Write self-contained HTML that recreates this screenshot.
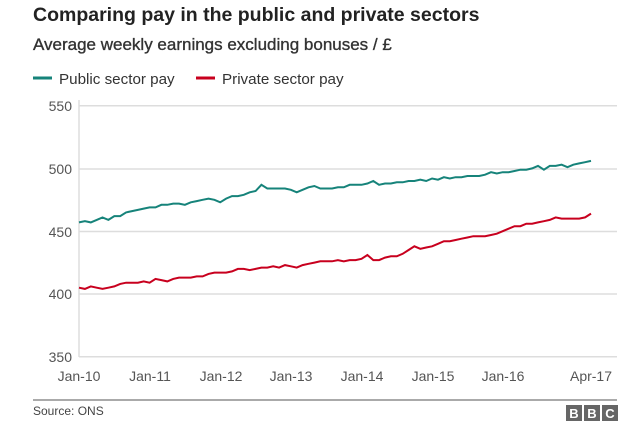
<!DOCTYPE html><html><head><style>
body{margin:0;background:#fff;width:638px;height:428px;overflow:hidden;font-family:"Liberation Sans",Arial,sans-serif}
</style></head><body>
<svg width="638" height="428" xmlns="http://www.w3.org/2000/svg" font-family="Liberation Sans, Arial, sans-serif">
<text x="33" y="21" font-size="19.5" font-weight="bold" fill="#222">Comparing pay in the public and private sectors</text>
<text x="33" y="50" font-size="17" fill="#333" stroke="#333" stroke-width="0.35">Average weekly earnings excluding bonuses / £</text>
<line x1="33" y1="78" x2="52" y2="78" stroke="#16837a" stroke-width="3"/>
<text x="59" y="84" font-size="15.2" fill="#333">Public sector pay</text>
<line x1="196" y1="78" x2="215" y2="78" stroke="#c8001e" stroke-width="3"/>
<text x="222" y="84" font-size="15.2" fill="#333">Private sector pay</text>
<g stroke="#ddd" stroke-width="1.5">
<line x1="79" y1="105.7" x2="617" y2="105.7"/><line x1="79" y1="169" x2="617" y2="169"/>
<line x1="79" y1="231.5" x2="617" y2="231.5"/><line x1="79" y1="294" x2="617" y2="294"/>
<line x1="79" y1="356.7" x2="617" y2="356.7"/><line x1="79" y1="100" x2="79" y2="357"/>
</g>
<g font-size="14" fill="#555" text-anchor="end">
<text x="72" y="111">550</text><text x="72" y="174">500</text><text x="72" y="237">450</text><text x="72" y="299">400</text><text x="72" y="362">350</text>
</g>
<g font-size="14" fill="#555" text-anchor="middle">
<text x="79" y="381">Jan-10</text><text x="150" y="381">Jan-11</text><text x="221" y="381">Jan-12</text><text x="291" y="381">Jan-13</text><text x="362" y="381">Jan-14</text><text x="433" y="381">Jan-15</text><text x="503" y="381">Jan-16</text><text x="591" y="381">Apr-17</text>
</g>
<polyline id="pub" fill="none" stroke="#16837a" stroke-width="2"/>
<polyline id="pri" fill="none" stroke="#c8001e" stroke-width="2"/>
<line x1="33" y1="400" x2="617" y2="400" stroke="#555" stroke-width="1"/>
<text x="33" y="415" font-size="12" fill="#444">Source: ONS</text>
<g font-size="13" font-weight="bold" fill="#fff" text-anchor="middle">
<rect x="566" y="405" width="16" height="16" fill="#666"/><text x="574" y="418">B</text>
<rect x="584" y="405" width="16" height="16" fill="#666"/><text x="592" y="418">B</text>
<rect x="602" y="405" width="16" height="16" fill="#666"/><text x="610" y="418">C</text>
</g>
</svg>
<script>
var pub=[457,458,457,459,461,459,462,462,465,466,467,468,469,469,471,471,472,472,471,473,474,475,476,475,473,476,478,478,479,481,482,487,484,484,484,484,483,481,483,485,486,484,484,484,485,485,487,487,487,488,490,487,488,488,489,489,490,490,491,490,492,491,493,492,493,493,494,494,494,495,497,496,497,497,498,499,499,500,502,499,502,502,503,501,503,504,505,506];
var pri=[405,404,406,405,404,405,406,408,409,409,409,410,409,412,411,410,412,413,413,413,414,414,416,417,417,417,418,420,420,419,420,421,421,422,421,423,422,421,423,424,425,426,426,426,427,426,427,427,428,431,427,427,429,430,430,432,435,438,436,437,438,440,442,442,443,444,445,446,446,446,447,448,450,452,454,454,456,456,457,458,459,461,460,460,460,460,461,464];
function pts(a){var n=88,s=[];for(var i=0;i<n;i++){var v=a[Math.min(i,a.length-1)];s.push((79+i*512/87).toFixed(1)+","+(356.7-(v-350)*251/200).toFixed(1));}return s.join(" ");}
document.getElementById("pub").setAttribute("points",pts(pub));
document.getElementById("pri").setAttribute("points",pts(pri));
</script>
</body></html>
